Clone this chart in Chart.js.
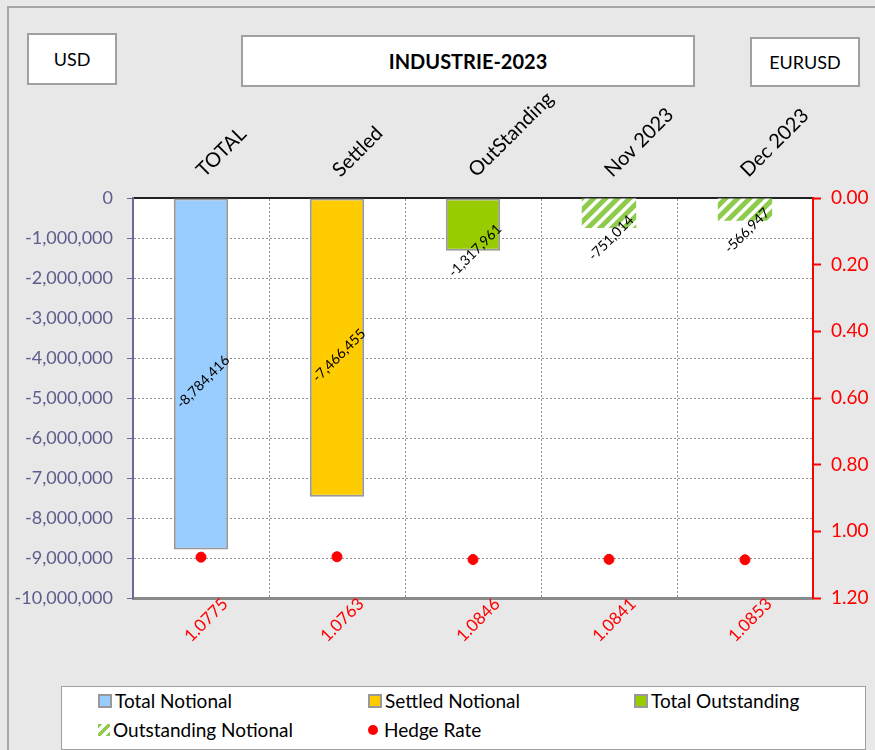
<!DOCTYPE html>
<html>
<head>
<meta charset="utf-8">
<script src="https://cdn.jsdelivr.net/npm/chart.js@4.4.0/dist/chart.umd.min.js"></script>
<style>
body { margin: 0; background: #e8e8e8; font-family: Lato, sans-serif; overflow: hidden; }
#frame { position: absolute; left: 7px; top: 6px; width: 900px; height: 800px; border: 2px solid #a6a6a6; }
.box { position: absolute; background: #fff; border: 2px solid #a0a0a0; display: flex; align-items: center; justify-content: center; font-size: 18px; color: #000; }
#wrap { position: absolute; left: 0; top: 0; width: 875px; height: 680px; }
#legend { position: absolute; left: 61px; top: 686px; width: 803px; height: 62px; background: #fff; border: 1px solid #a0a0a0; font-size: 19px; }
.item { position: absolute; display: flex; align-items: center; }
.mark { width: 10px; height: 10px; border: 2px solid #999; margin-right: 3px; }
</style>
</head>
<body>
<div id="frame"></div>
<div class="box" style="left:27px;top:33px;width:86px;height:48px;">USD</div>
<div class="box" style="left:241px;top:35px;width:450px;height:48px;font-weight:bold;font-size:20px;">INDUSTRIE-2023</div>
<div class="box" style="left:750px;top:37px;width:106px;height:46px;">EURUSD</div>
<div id="wrap"><canvas id="myChart"></canvas></div>
<div id="legend"></div>
<script>
// chart values
var categories = ['TOTAL', 'Settled', 'OutStanding', 'Nov 2023', 'Dec 2023']
var totalNotional = [-8784416, null, null, null, null]
var settledNotional = [null, -7466455, null, null, null]
var totalOutstanding = [null, null, -1317961, null, null]
var outstandingNotional = [null, null, null, -751014, -566947]
var hedgeRate = [1.0775, 1.0763, 1.0846, 1.0841, 1.0853]
var hedgeLabels = ['1.0775', '1.0763', '1.0846', '1.0841', '1.0853']

// diagonal hatch for the monthly bars
function makeHatch() {
    var c = document.createElement('canvas')
    c.width = 12; c.height = 12
    var g = c.getContext('2d')
    g.fillStyle = '#fff'
    g.fillRect(0, 0, 12, 12)
    g.strokeStyle = '#8fcb4c'
    g.lineWidth = 5
    g.beginPath()
    g.moveTo(-3, 3); g.lineTo(3, -3)
    g.moveTo(0, 12); g.lineTo(12, 0)
    g.moveTo(9, 15); g.lineTo(15, 9)
    g.stroke()
    return g.createPattern(c, 'repeat')
}
var hatch = makeHatch()

function barSet(label, data, color, border, labelMode) {
    return {
        label: label,
        data: data,
        backgroundColor: color,
        borderColor: border,
        borderWidth: border ? 2 : 0,
        borderSkipped: false,
        grouped: false,
        barPercentage: 0.4,
        categoryPercentage: 1,
        xAxisID: 'x',
        yAxisID: 'y',
        labelMode: labelMode,
        order: 2
    }
}

const datasets = [
    barSet('Total Notional', totalNotional, '#99ccff', '#999999', 'center'),
    barSet('Settled Notional', settledNotional, '#ffcc00', '#999999', 'center'),
    barSet('Total Outstanding', totalOutstanding, '#99cc00', '#999999', 'end0'),
    barSet('Outstanding Notional', outstandingNotional, hatch, null, 'end10'),
    {
        type: 'line',
        label: 'Hedge Rate',
        data: hedgeRate,
        showLine: false,
        pointRadius: 5,
        pointBackgroundColor: '#ff0000',
        pointBorderColor: '#ff0000',
        xAxisID: 'x',
        yAxisID: 'y1',
        order: 1
    }
]

const areaBg = {
    id: 'areaBg',
    beforeDraw(chart) {
        var a = chart.chartArea
        chart.ctx.save()
        chart.ctx.fillStyle = '#fff'
        chart.ctx.fillRect(a.left, a.top, a.right - a.left, a.bottom - a.top)
        chart.ctx.restore()
    }
}

const barLabels = {
    id: 'barLabels',
    afterDatasetsDraw(chart) {
        var ctx = chart.ctx
        ctx.save()
        ctx.font = '14px Lato'
        ctx.fillStyle = '#000'
        ctx.textAlign = 'center'
        ctx.textBaseline = 'middle'
        chart.data.datasets.forEach((ds, i) => {
            if (!ds.labelMode) return
            chart.getDatasetMeta(i).data.forEach((bar, j) => {
                var v = ds.data[j]
                if (v == null) return
                var p = bar.getProps(['x', 'y', 'base'], true)
                var y
                if (ds.labelMode == 'center') y = (p.y + p.base) / 2 + 8
                else y = p.y + parseInt(ds.labelMode.slice(3))
                ctx.save()
                ctx.translate(p.x + 2, y)
                ctx.rotate(-Math.PI / 4)
                ctx.fillText(v.toLocaleString('en-US'), 0, 0)
                ctx.restore()
            })
        })
        ctx.restore()
    }
}

const gridCol = '#8c8c8c'

const config = {
    type: 'bar',
    data: { labels: categories, datasets: datasets },
    plugins: [areaBg, barLabels],
    options: {
        responsive: true,
        maintainAspectRatio: false,
        animation: false,
        layout: { padding: 0 },
        plugins: { legend: { display: false }, tooltip: { enabled: false } },
        scales: {
            x: {
                position: 'top',
                offset: true,
                grid: { offset: true, color: gridCol, drawTicks: false },
                border: { display: true, color: '#222', width: 2, dash: [2, 2] },
                ticks: { minRotation: 45, maxRotation: 45, color: '#000', font: { family: 'Lato', size: 20 }, padding: 16, labelOffset: 16 },
                afterFit(s) { s.height = 198 }
            },
            x2: {
                type: 'category',
                labels: hedgeLabels,
                position: 'bottom',
                offset: true,
                grid: { drawOnChartArea: false, drawTicks: false },
                border: { display: true, color: '#8a8a8a', width: 3 },
                ticks: { minRotation: 45, maxRotation: 45, color: '#ff0000', font: { family: 'Lato', size: 17 }, padding: -4, labelOffset: 24 },
                afterFit(s) { s.height = 82 }
            },
            y: {
                position: 'left',
                min: -10000000,
                max: 0,
                grid: { color: gridCol, tickColor: '#6b6b9b', tickLength: 6 },
                border: { display: true, color: '#6b6b9b', width: 2, dash: [2, 2] },
                ticks: {
                    stepSize: 1000000,
                    color: '#5c5c8e',
                    font: { family: 'Lato', size: 18 },
                    padding: 14,
                    callback: v => v.toLocaleString('en-US')
                },
                afterFit(s) { s.width = 133 }
            },
            y1: {
                position: 'right',
                min: 0,
                max: 1.2,
                reverse: true,
                grid: { drawOnChartArea: false, tickColor: '#ff0000', tickLength: 8, tickWidth: 2 },
                border: { display: true, color: '#ff0000', width: 2 },
                ticks: {
                    stepSize: 0.2,
                    color: '#ff0000',
                    font: { family: 'Lato', size: 19 },
                    padding: 10,
                    callback: v => Number(v).toFixed(2)
                },
                afterFit(s) { s.width = 62 }
            }
        }
    }
}

const myChart = new Chart(document.getElementById('myChart'), config)

// legend laid out like the sheet
var legendPos = [[36, 2], [306, 2], [572, 2], [36, 31], [306, 31]]
var legend = document.getElementById('legend')
datasets.forEach((ds, i) => {
    var it = document.createElement('div')
    it.className = 'item'
    it.style.left = legendPos[i][0] + 'px'
    it.style.top = legendPos[i][1] + 'px'
    var m = document.createElement('span')
    if (ds.type == 'line') {
        m.style.cssText = 'width:10px;height:10px;border-radius:50%;background:#ff0000;margin-right:6px;'
    } else if (ds.backgroundColor === hatch) {
        m.style.cssText = 'width:12px;height:12px;margin-right:3px;background:repeating-linear-gradient(-45deg,#8fcb4c 0 3px,#fff 3px 7px);'
    } else {
        m.className = 'mark'
        m.style.background = ds.backgroundColor
    }
    var t = document.createElement('span')
    t.textContent = ds.label
    it.appendChild(m)
    it.appendChild(t)
    legend.appendChild(it)
})
</script>
</body>
</html>
